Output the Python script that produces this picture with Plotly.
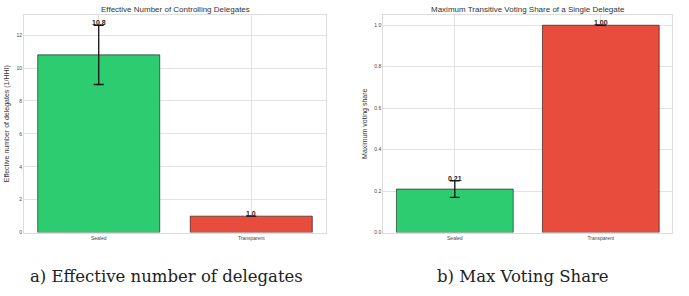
import plotly.graph_objects as go

categories = ["Sealed", "Transparent"]
eff_values = [10.8, 1.0]
eff_errors = [1.8, 0.0]
share_values = [0.21, 1.00]
share_errors = [0.04, 0.0]
bar_colors = ["#2ecc71", "#e74c3c"]

fig = go.Figure()

SANS = "Liberation Sans, Arial, sans-serif"
SERIF = "DejaVu Serif, Liberation Serif, serif"

fig.add_trace(go.Bar(
    x=categories, y=eff_values, width=0.8,
    marker=dict(color=bar_colors, line=dict(color="rgba(0,0,0,0.55)", width=1)),
    error_y=dict(type="data", array=eff_errors, color="#111", thickness=1.3, width=5),
    xaxis="x", yaxis="y", showlegend=False,
))
fig.add_trace(go.Bar(
    x=categories, y=share_values, width=0.8,
    marker=dict(color=bar_colors, line=dict(color="rgba(0,0,0,0.55)", width=1)),
    error_y=dict(type="data", array=share_errors, color="#111", thickness=1.3, width=5),
    xaxis="x2", yaxis="y2", showlegend=False,
))

annotations = []
for c, v, e in zip(categories, eff_values, eff_errors):
    annotations.append(dict(x=c, y=v + e, xref="x", yref="y", text=f"<b>{v:.1f}</b>",
                            showarrow=False, yanchor="bottom", yshift=-3,
                            font=dict(size=7, color="#222", family=SANS)))
for c, v, e in zip(categories, share_values, share_errors):
    annotations.append(dict(x=c, y=v + e, xref="x2", yref="y2", text=f"<b>{v:.2f}</b>",
                            showarrow=False, yanchor="bottom", yshift=-3,
                            font=dict(size=7, color="#222", family=SANS)))

# titles
annotations.append(dict(x=(0.0348 + 0.4732) / 2, y=1 - 9.5 / 296, xref="paper", yref="paper",
                        text="Effective Number of Controlling Delegates", showarrow=False,
                        xanchor="center", yanchor="middle",
                        font=dict(size=8, color="#333", family=SANS)))
annotations.append(dict(x=(0.5563 + 0.9758) / 2, y=1 - 9.5 / 296, xref="paper", yref="paper",
                        text="Maximum Transitive Voting Share of a Single Delegate", showarrow=False,
                        xanchor="center", yanchor="middle",
                        font=dict(size=8, color="#333", family=SANS)))
# captions
annotations.append(dict(x=166 / 689, y=1 - 279 / 296, xref="paper", yref="paper",
                        text="a) Effective number of delegates", showarrow=False,
                        xanchor="center", yanchor="middle",
                        font=dict(size=16.5, color="#222", family=SERIF)))
annotations.append(dict(x=523 / 689, y=1 - 279 / 296, xref="paper", yref="paper",
                        text="b) Max Voting Share", showarrow=False,
                        xanchor="center", yanchor="middle",
                        font=dict(size=16.5, color="#222", family=SERIF)))

axis_common = dict(showgrid=True, gridcolor="#e3e3e3", gridwidth=1, showline=True,
                   linecolor="#dcdcdc", linewidth=1, mirror=True, zeroline=False,
                   ticks="", tickfont=dict(size=5, color="#444", family=SANS))

fig.update_layout(
    width=689, height=296,
    margin=dict(l=0, r=0, t=0, b=0),
    paper_bgcolor="white", plot_bgcolor="white",
    annotations=annotations,
    xaxis=dict(domain=[0.0348, 0.4732], range=[-0.49, 1.49], anchor="y", **axis_common),
    yaxis=dict(domain=[0.2061, 0.9493], range=[0, 13.23], anchor="x", dtick=2,
               title=dict(text="Effective number of delegates (1/HHI)", standoff=5,
                          font=dict(size=7, color="#333", family=SANS)), **axis_common),
    xaxis2=dict(domain=[0.5563, 0.9758], range=[-0.49, 1.49], anchor="y2", **axis_common),
    yaxis2=dict(domain=[0.2061, 0.9493], range=[0, 1.05], anchor="x2", dtick=0.2, tickformat=".1f",
                title=dict(text="Maximum voting share", standoff=5,
                           font=dict(size=7, color="#333", family=SANS)), **axis_common),
)

fig.write_html("out.html")
